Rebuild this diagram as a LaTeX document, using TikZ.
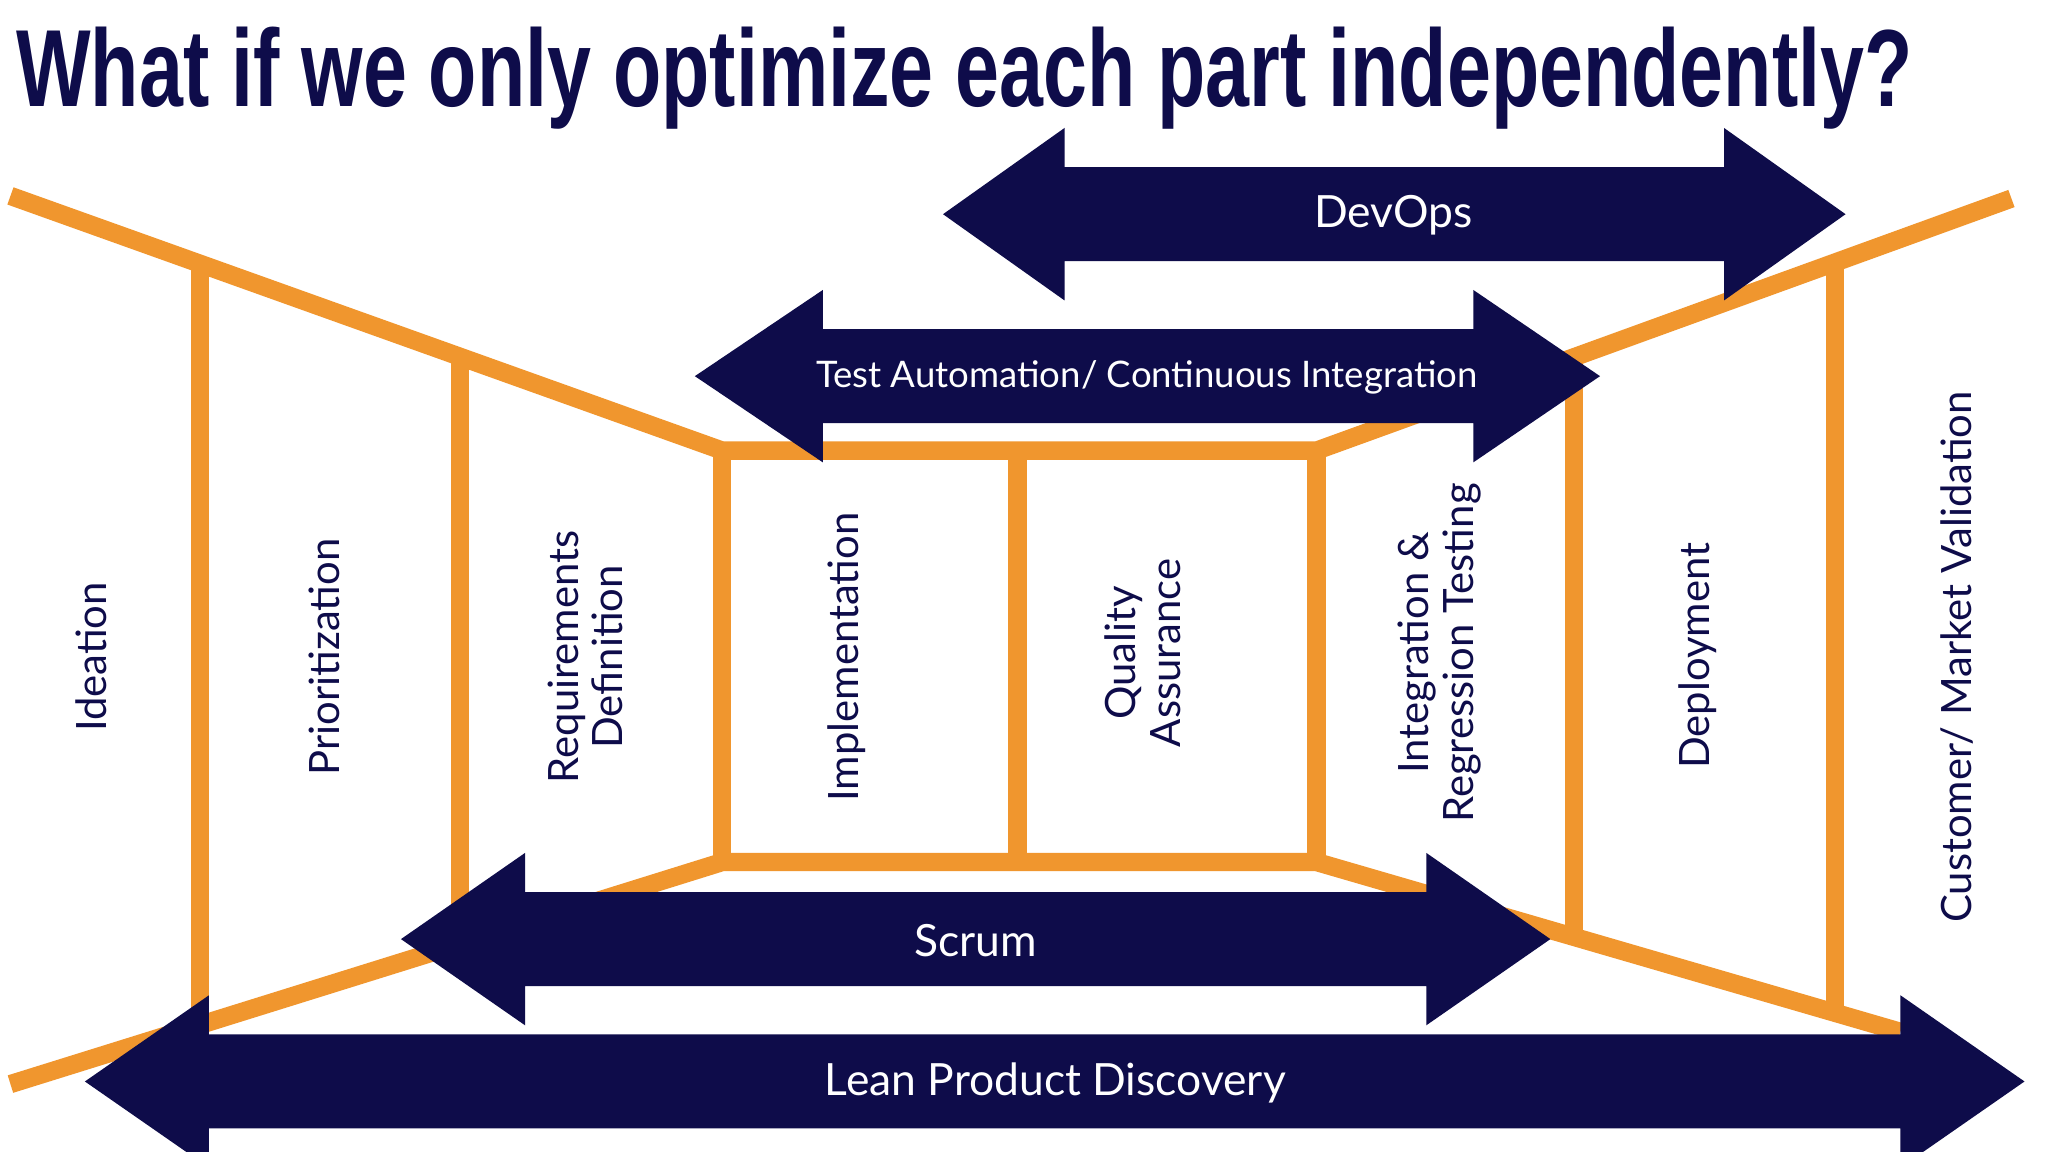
\documentclass[tikz,border=0pt]{standalone}
\usepackage{fontspec}
\setmainfont{Lato}
\newfontfamily\titlefont{Liberation Sans}
\definecolor{navy}{HTML}{0E0C4A}
\definecolor{lineorange}{HTML}{F0962E}
% double arrow: left tip, left head end, right head start, right tip, centre y
\newcommand{\dblarrow}[5]{%
  \fill[navy] (#1,#5) -- (#2,#5-66) -- (#2,#5-36) -- (#3,#5-36) -- (#3,#5-66)
    -- (#4,#5) -- (#3,#5+66) -- (#3,#5+36) -- (#2,#5+36) -- (#2,#5+66) -- cycle;}
\begin{document}
\begin{tikzpicture}[x=1pt,y=-1pt,line join=round,
    frame/.style={lineorange,line width=14pt},
    phase/.style={navy,rotate=90,align=center,font=\fontsize{32}{34}\selectfont},
    band/.style={white,font=\fontsize{34}{36}\selectfont}]
  \useasboundingbox[fill=white] (0,0) rectangle (1568,882);
  \node[navy,anchor=west,xscale=0.72,font=\titlefont\bfseries\fontsize{84}{90}\selectfont] (title) at (10,60) {What if we only optimize each part independently?};
  % funnel
  \draw[frame] (8,150) -- (553,345) -- (1008,345) -- (1540,152);
  \draw[frame] (8,830) -- (553,660) -- (1008,660) -- (1455,790);
  \draw[frame] (553,345) -- (553,660);
  \draw[frame] (779,345) -- (779,660);
  \draw[frame] (1008,345) -- (1008,660);
  \foreach \x/\t/\b in {153/202/784, 352/273/722, 1205/274/717, 1405/201/775}
    \draw[frame] (\x,\t) -- (\x,\b);
  % phases
  \node[phase] (ideation) at (70,503) {Ideation};
  \node[phase] (prio) at (248,503) {Prioritization};
  \node[phase] (req) at (448,503) {Requirements\\Definition};
  \node[phase] (impl) at (648,503) {Implementation};
  \node[phase] (qa) at (875,500) {Quality\\Assurance};
  \node[phase] (integ) at (1102,500) {Integration \&\\Regression Testing};
  \node[phase] (deploy) at (1300,502) {Deployment};
  \node[phase] (cust) at (1498,503) {Customer/ Market Validation};
  % bands
  \dblarrow{722}{815}{1320}{1413}{164}
  \node[band] (devops) at (1067,165) {DevOps};
  \dblarrow{532}{630}{1128}{1225}{288}
  \node[band,font=\fontsize{28}{30}\selectfont] (testauto) at (878,289) {Test Automation/ Continuous Integration};
  \dblarrow{307}{402}{1092}{1187}{719}
  \node[band] (scrum) at (747,720) {Scrum};
  \dblarrow{65}{160}{1455}{1550}{828}
  \node[band] (lean) at (808,829) {Lean Product Discovery};
\end{tikzpicture}
\end{document}
